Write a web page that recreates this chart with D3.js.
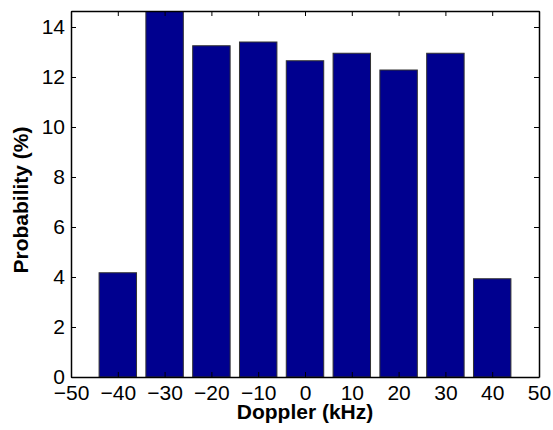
<!DOCTYPE html>
<html><head><meta charset="utf-8">
<script src="https://cdn.jsdelivr.net/npm/d3@7"></script>
<style>body{margin:0;background:#fff}svg{display:block}text{font-family:"Liberation Sans",Arial,sans-serif}</style>
</head><body>
<script>
const doppler = [-40, -30, -20, -10, 0, 10, 20, 30, 40];
const probability = [4.17, 15.2, 13.25, 13.4, 12.65, 12.95, 12.28, 12.95, 3.93];
const xTicks = [-50, -40, -30, -20, -10, 0, 10, 20, 30, 40, 50];
const yTicks = [0, 2, 4, 6, 8, 10, 12, 14];
const xLabel = "Doppler (kHz)";
const yLabel = "Probability (%)";

const W = 553, H = 430;
const m = {left: 71, right: 14, top: 11, bottom: 53};
const svg = d3.select("body").append("svg").attr("width", W).attr("height", H);
const x = d3.scaleLinear().domain([-50, 50]).range([m.left, W - m.right]);
const y = d3.scaleLinear().domain([0, 14.64]).range([H - m.bottom, m.top]);
const fmt = d => d < 0 ? "\u2212" + Math.abs(d) : String(d);

svg.append("defs").append("clipPath").attr("id", "c").append("rect")
  .attr("x", m.left).attr("y", m.top).attr("width", W - m.left - m.right).attr("height", H - m.top - m.bottom);

svg.append("g").attr("clip-path", "url(#c)").selectAll("rect").data(doppler).join("rect")
  .attr("x", (d) => x(d - 4)).attr("width", x(4) - x(-4))
  .attr("y", (d, i) => y(probability[i])).attr("height", (d, i) => y(0) - y(probability[i]))
  .attr("fill", "#00008f").attr("stroke", "#333").attr("stroke-width", 1);

const tl = 5;
const gx = svg.append("g").attr("transform", `translate(0,${y(0)})`)
  .call(d3.axisBottom(x).tickValues(xTicks).tickFormat(fmt).tickSizeInner(-tl).tickSizeOuter(0).tickPadding(8));
const gxt = svg.append("g").attr("transform", `translate(0,${m.top})`)
  .call(d3.axisTop(x).tickValues(xTicks).tickFormat("").tickSizeInner(-tl).tickSizeOuter(0));
const gy = svg.append("g").attr("transform", `translate(${m.left},0)`)
  .call(d3.axisLeft(y).tickValues(yTicks).tickFormat(fmt).tickSizeInner(-tl).tickSizeOuter(0).tickPadding(6));
const gyr = svg.append("g").attr("transform", `translate(${W - m.right},0)`)
  .call(d3.axisRight(y).tickValues(yTicks).tickFormat("").tickSizeInner(-tl).tickSizeOuter(0));
[gx, gxt, gy, gyr].forEach(g => {
  g.select(".domain").attr("stroke", "#000").attr("stroke-width", 1.5);
  g.selectAll(".tick line").attr("stroke", "#000");
  g.selectAll("text").attr("font-size", 21).attr("fill", "#000").attr("font-family", '"Liberation Sans",Arial,sans-serif');
});

svg.append("text").attr("x", x(0)).attr("y", 419).attr("text-anchor", "middle")
  .attr("font-size", 21).attr("font-weight", "bold").text(xLabel);
svg.append("text").attr("transform", `translate(28,${(y(0) + m.top) / 2 + 6}) rotate(-90)`).attr("text-anchor", "middle")
  .attr("font-size", 21).attr("font-weight", "bold").text(yLabel);
</script>
</body></html>
